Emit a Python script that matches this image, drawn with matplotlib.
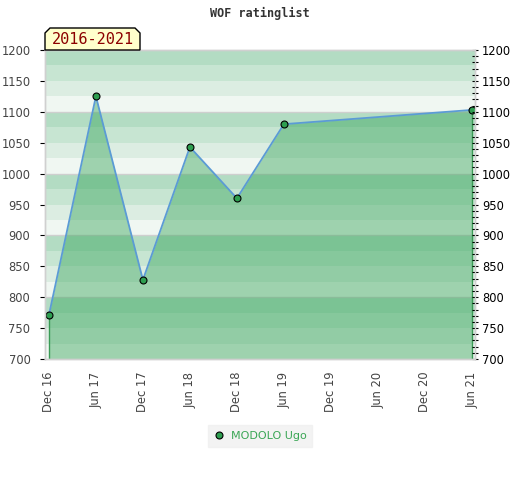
"""
WOF ratinglist - MODOLO Ugo, 2016-2021.
"""
import matplotlib
matplotlib.use("Agg")
import matplotlib.pyplot as plt
import numpy as np
from matplotlib.patches import Polygon
from matplotlib.ticker import MultipleLocator

# dados (meses desde dez/2016)
meses = [0, 6, 12, 18, 24, 30, 54]
rating = [771, 1125, 828, 1043, 960, 1080, 1103]
posicoes_ticks = [0, 6, 12, 18, 24, 30, 36, 42, 48, 54]
rotulos_ticks = ["Dec 16", "Jun 17", "Dec 17", "Jun 18", "Dec 18",
                 "Jun 19", "Dec 19", "Jun 20", "Dec 20", "Jun 21"]
jogador = "MODOLO Ugo"
periodo = "2016-2021"

fig = plt.figure(figsize=(5.2, 4.8), dpi=100)
ax = fig.add_axes([45 / 520, 121 / 480, 430 / 520, 309 / 480])
ax.set_xlim(-0.5, 54.4)
ax.set_ylim(700, 1200)

# faixas de fundo (4 por centena, escurecendo para cima)
cores_faixa = ["#f0f7f2", "#dcede2", "#c7e5d2", "#b3dcc3"]
for base in np.arange(700, 1200, 25):
    i = int((base % 100) // 25)
    ax.axhspan(base, base + 25, color=cores_faixa[i], lw=0, zorder=0)
for nivel in np.arange(800, 1200, 100):
    ax.axhline(nivel, color="#cfcfcf", lw=1, zorder=0.5)

# area sob a curva
ax.fill_between(meses, rating, 700, color="#35a458", alpha=0.44,
                lw=0, zorder=1)
ax.vlines([meses[0], meses[-1]], 700, [rating[0], rating[-1]],
          color="#3a9a55", lw=1, zorder=2)
ax.plot(meses, rating, color="#5b9bd5", lw=1.3, zorder=3)
ax.plot(meses, rating, ls="none", marker="o", ms=5, mfc="#2e9e50",
        mec="black", mew=0.8, zorder=4, label=jogador)

ax.set_xticks(posicoes_ticks)
ax.set_xticklabels(rotulos_ticks, rotation=90)
ax.yaxis.set_major_locator(MultipleLocator(50))
ax.tick_params(axis="x", length=0, pad=9, labelsize=8.3, labelcolor="#444444")
ax.tick_params(axis="y", left=False, labelsize=8.3, labelcolor="#444444", pad=7)

# eixo direito com ticks menores
ax2 = ax.twinx()
ax2.set_ylim(700, 1200)
ax2.yaxis.set_major_locator(MultipleLocator(50))
ax2.yaxis.set_minor_locator(MultipleLocator(10))
ax2.tick_params(axis="y", which="both", direction="inout", length=4,
                width=0.8, color="black", labelsize=8.3, labelcolor="black",
                pad=3)

for a in (ax, ax2):
    for s in a.spines.values():
        s.set_color("#d0d0d0")
        s.set_linewidth(1)

fig.text(0.5, 1 - 13 / 480, "WOF ratinglist", ha="center", va="center",
         fontsize=8.5, family="DejaVu Sans Mono", weight="bold",
         color="#333333")

# etiqueta do periodo (caixa com cantos chanfrados)
x0, x1 = 45 / 520, 140 / 520
y0, y1 = 1 - 50 / 480, 1 - 28 / 480
c = 5 / 520
cy = 5 / 480
etiqueta = Polygon([(x0, y0), (x0, y1 - cy), (x0 + c, y1), (x1 - c, y1),
                    (x1, y1 - cy), (x1, y0)], closed=True,
                   transform=fig.transFigure, facecolor="#ffffcc",
                   edgecolor="black", lw=1, zorder=5)
fig.patches.append(etiqueta)
fig.text((x0 + x1) / 2, (y0 + y1) / 2 - 0.002, periodo, ha="center",
         va="center", fontsize=11, family="DejaVu Sans Mono",
         color="#8b0000", zorder=6)

leg = fig.legend(loc="center", bbox_to_anchor=(0.5, 1 - 436 / 480),
                 frameon=True, fontsize=8, handletextpad=0.6,
                 borderpad=0.5, handlelength=1, fancybox=False)
leg.get_frame().set_facecolor("#f0f0f0")
leg.get_frame().set_edgecolor("#f0f0f0")
for t in leg.get_texts():
    t.set_color("#3aa655")

fig.savefig("out.png", dpi=100)
